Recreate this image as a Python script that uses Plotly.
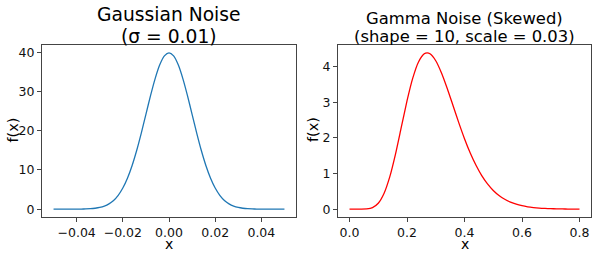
import plotly.graph_objects as go

# Gaussian noise density (sigma = 0.01)
gauss_x = [-0.050, -0.048, -0.046, -0.044, -0.042, -0.040, -0.038, -0.036, -0.034, -0.032,
           -0.030, -0.028, -0.026, -0.024, -0.022, -0.020, -0.018, -0.016, -0.014, -0.012,
           -0.010, -0.008, -0.006, -0.004, -0.002, 0.000, 0.002, 0.004, 0.006, 0.008,
           0.010, 0.012, 0.014, 0.016, 0.018, 0.020, 0.022, 0.024, 0.026, 0.028,
           0.030, 0.032, 0.034, 0.036, 0.038, 0.040, 0.042, 0.044, 0.046, 0.048, 0.050]
gauss_y = [0.00, 0.00, 0.00, 0.00, 0.01, 0.01, 0.03, 0.06, 0.12, 0.24,
           0.44, 0.79, 1.36, 2.24, 3.55, 5.40, 7.90, 11.09, 14.97, 19.42,
           24.20, 28.97, 33.32, 36.83, 39.10, 39.89, 39.10, 36.83, 33.32, 28.97,
           24.20, 19.42, 14.97, 11.09, 7.90, 5.40, 3.55, 2.24, 1.36, 0.79,
           0.44, 0.24, 0.12, 0.06, 0.03, 0.01, 0.01, 0.00, 0.00, 0.00, 0.00]

# Gamma noise density (shape = 10, scale = 0.03)
gamma_x = [0.00, 0.02, 0.04, 0.06, 0.08, 0.10, 0.12, 0.14, 0.16, 0.18,
           0.20, 0.22, 0.24, 0.26, 0.27, 0.28, 0.30, 0.32, 0.34, 0.36, 0.38,
           0.40, 0.42, 0.44, 0.46, 0.48, 0.50, 0.52, 0.54, 0.56, 0.58,
           0.60, 0.62, 0.64, 0.66, 0.68, 0.70, 0.72, 0.74, 0.76, 0.78, 0.80]
gamma_y = [0.000, 0.000, 0.000, 0.006, 0.044, 0.166, 0.441, 0.907, 1.548, 2.295,
           3.041, 3.681, 4.136, 4.364, 4.392, 4.365, 4.170, 3.827, 3.391, 2.912, 2.432,
           1.981, 1.578, 1.232, 0.943, 0.710, 0.527, 0.385, 0.278, 0.198, 0.139,
           0.097, 0.067, 0.046, 0.031, 0.021, 0.014, 0.009, 0.006, 0.004, 0.003, 0.002]

gauss_ticks = [-0.04, -0.02, 0.00, 0.02, 0.04]
gauss_ticklabels = ["−0.04", "−0.02", "0.00", "0.02", "0.04"]
gauss_yticks = [0, 10, 20, 30, 40]
gamma_ticks = [0.0, 0.2, 0.4, 0.6, 0.8]
gamma_ticklabels = ["0.0", "0.2", "0.4", "0.6", "0.8"]
gamma_yticks = [0, 1, 2, 3, 4]

FONT = "DejaVu Sans"
W, H = 598, 256

fig = go.Figure()
fig.add_trace(go.Scatter(x=gauss_x, y=gauss_y, mode="lines", line=dict(color="#1f77b4", width=1.3, shape="spline", smoothing=0.6),
                         xaxis="x", yaxis="y", showlegend=False))
fig.add_trace(go.Scatter(x=gamma_x, y=gamma_y, mode="lines", line=dict(color="#ff0000", width=1.3, shape="spline", smoothing=0.6),
                         xaxis="x2", yaxis="y2", showlegend=False))

ax_common = dict(showline=True, linecolor="#444444", linewidth=1, mirror=True, ticks="outside", ticklen=4,
                 tickwidth=1, tickcolor="#444444", showgrid=False, zeroline=False, automargin=False,
                 tickfont=dict(family=FONT, size=12.5, color="#111111"))

ytop = 1 - 45 / H
ybot = 1 - 217 / H

fig.update_layout(
    width=W, height=H, margin=dict(l=0, r=0, t=0, b=0, pad=0, autoexpand=False),
    paper_bgcolor="white", plot_bgcolor="white",
    xaxis=dict(domain=[42 / W, 296 / W], range=[-0.055, 0.055], tickvals=gauss_ticks, ticktext=gauss_ticklabels, anchor="y", **ax_common),
    yaxis=dict(domain=[ybot, ytop], range=[-1.995, 41.89], tickvals=gauss_yticks, anchor="x", **ax_common),
    xaxis2=dict(domain=[338 / W, 591 / W], range=[-0.04, 0.84], tickvals=gamma_ticks, ticktext=gamma_ticklabels, anchor="y2", **ax_common),
    yaxis2=dict(domain=[ybot, ytop], range=[-0.2196, 4.612], tickvals=gamma_yticks, anchor="x2", **ax_common),
)

def ann(text, x, y, size, angle=0):
    fig.add_annotation(text=text, x=x, y=y, xref="paper", yref="paper", showarrow=False,
                       xanchor="center", yanchor="middle", textangle=angle,
                       font=dict(family=FONT, size=size, color="#000000"))

# titles
ann("Gaussian Noise", 169 / W, 1 - 14 / H, 18.7)
ann("(σ = 0.01)", 169 / W, 1 - 36 / H, 18.7)
ann("Gamma Noise (Skewed)", 464.5 / W, 1 - 18.5 / H, 16.4)
ann("(shape = 10, scale = 0.03)", 464.5 / W, 1 - 36 / H, 16.4)
# axis labels
ann("x", 169 / W, 1 - 244 / H, 14)
ann("x", 464.5 / W, 1 - 244 / H, 14)
ann("f(x)", 12.5 / W, 1 - 130 / H, 14.5, -90)
ann("f(x)", 313 / W, 1 - 130 / H, 14.5, -90)

fig.write_html("out.html", config={"displayModeBar": False},
               post_script="document.body.style.margin='0';document.body.style.overflow='hidden';")
